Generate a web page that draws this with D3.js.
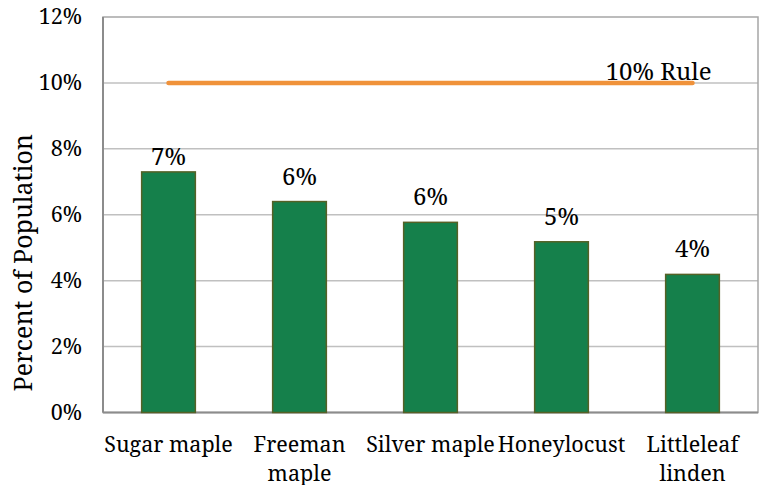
<!DOCTYPE html>
<html>
<head>
<meta charset="utf-8">
<script src="https://cdn.jsdelivr.net/npm/d3@7"></script>
<style>
  html, body { margin: 0; padding: 0; background: #fff; }
  svg { display: block; }
</style>
</head>
<body>
<svg id="chart" width="764" height="485"></svg>
<script>
const categories = [["Sugar maple"], ["Freeman", "maple"], ["Silver maple"], ["Honeylocust"], ["Littleleaf", "linden"]];
const values = [7.3, 6.4, 5.77, 5.18, 4.19];
const valueLabels = ["7%", "6%", "6%", "5%", "4%"];
const ruleValues = [10, 10, 10, 10, 10];
const ruleLabel = "10% Rule";
const yTicks = [0, 2, 4, 6, 8, 10, 12];
const yTitle = "Percent of Population";

const FONT = "'Noto Serif', 'Liberation Serif', serif";
const svg = d3.select("#chart");
const m = { left: 103, right: 758, top: 17, bottom: 412.5 };

const keys = categories.map((c, i) => i);
const x = d3.scaleBand().domain(keys).range([m.left, m.right]).paddingInner(0.59).paddingOuter(0.295);
const y = d3.scaleLinear().domain([0, 12]).range([m.bottom, m.top]);

// gridlines
svg.append("g").selectAll("line").data(yTicks.filter(t => t > 0 && t < 12)).join("line")
  .attr("x1", m.left).attr("x2", m.right)
  .attr("y1", d => y(d)).attr("y2", d => y(d))
  .attr("stroke", "#c0c0c0").attr("stroke-width", 1.5);

// frame
svg.append("rect")
  .attr("x", m.left).attr("y", m.top)
  .attr("width", m.right - m.left).attr("height", m.bottom - m.top)
  .attr("fill", "none").attr("stroke", "#a6a6a6").attr("stroke-width", 1.5);
svg.append("line").attr("x1", m.left).attr("x2", m.left).attr("y1", m.top).attr("y2", m.bottom)
  .attr("stroke", "#8c8c8c").attr("stroke-width", 2);
svg.append("line").attr("x1", m.left).attr("x2", m.right).attr("y1", m.bottom).attr("y2", m.bottom)
  .attr("stroke", "#8c8c8c").attr("stroke-width", 2);

// y axis labels
const yAxis = d3.axisLeft(y).tickValues(yTicks).tickFormat(d => d + "%").tickSize(0).tickPadding(21);
const ya = svg.append("g").attr("transform", `translate(${m.left},0)`).call(yAxis);
ya.select(".domain").remove();
ya.attr("font-family", null).attr("font-size", null);
ya.selectAll("text").style("font-family", FONT).style("font-size", "21.5px").attr("fill", "#000");

// bars
svg.append("g").selectAll("rect").data(values).join("rect")
  .attr("x", (d, i) => x(i)).attr("width", x.bandwidth())
  .attr("y", d => y(d)).attr("height", d => y(0) - y(d))
  .attr("fill", "#15804b").attr("stroke", "#556126").attr("stroke-width", 1.5);

// value labels
svg.append("g").selectAll("text").data(values).join("text")
  .attr("x", (d, i) => x(i) + x.bandwidth() / 2)
  .attr("y", (d, i) => y(d) - (i === 0 ? 7 : 17))
  .attr("text-anchor", "middle").style("font-family", FONT).style("font-size", "24px")
  .text((d, i) => valueLabels[i]);

// rule line
const line = d3.line().x((d, i) => x(i) + x.bandwidth() / 2).y(d => y(d));
svg.append("path").datum(ruleValues).attr("d", line)
  .attr("fill", "none").attr("stroke", "#f0923a").attr("stroke-width", 4.5).attr("stroke-linecap", "round");
svg.append("text")
  .attr("x", x(ruleValues.length - 1) + x.bandwidth() / 2 + 19)
  .attr("y", y(ruleValues[ruleValues.length - 1]) - 3)
  .attr("text-anchor", "end").style("font-family", FONT).style("font-size", "24px").text(ruleLabel);

// category labels
const cat = svg.append("g").selectAll("text").data(categories).join("text")
  .attr("text-anchor", "middle").style("font-family", FONT).style("font-size", "21.5px")
  .attr("transform", (d, i) => `translate(${x(i) + x.bandwidth() / 2},452)`);
cat.selectAll("tspan").data(d => d).join("tspan")
  .attr("x", 0).attr("dy", (d, j) => j === 0 ? 0 : 28.5).text(d => d);

// y title
svg.append("text")
  .attr("transform", `translate(32,${(m.top + m.bottom) / 2 + 48}) rotate(-90)`)
  .attr("text-anchor", "middle").style("font-family", FONT).style("font-size", "25px").text(yTitle);
</script>
</body>
</html>
